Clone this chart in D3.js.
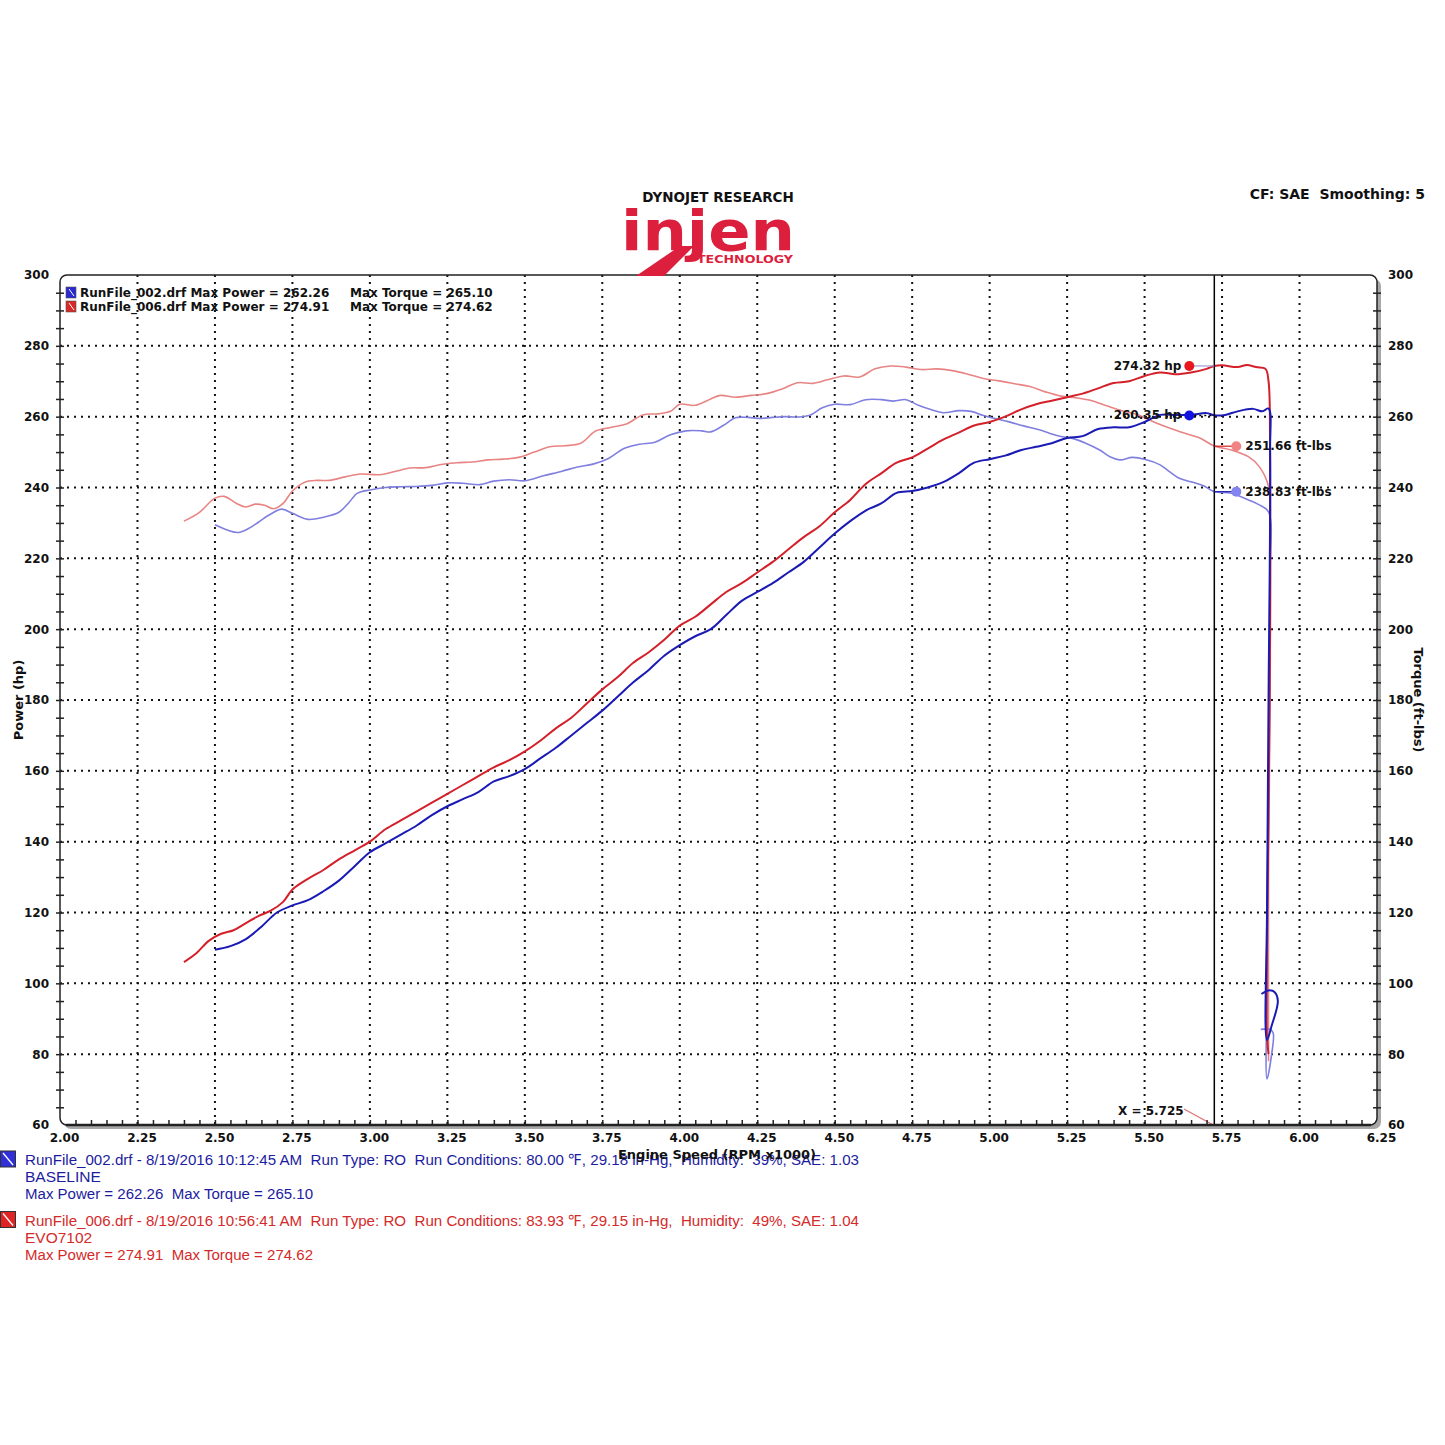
<!DOCTYPE html>
<html>
<head>
<meta charset="utf-8">
<script src="https://cdn.jsdelivr.net/npm/d3@7"></script>
<style>
  body { margin: 0; background: #fff; }
  text { font-family: "DejaVu Sans", Verdana, sans-serif; white-space: pre; }
</style>
</head>
<body>
<div id="chart"></div>
<script>
// Dyno runs: [rpm x1000, value]
const run006Power = [
  [2.40, 106], [2.44, 108.5], [2.48, 112], [2.52, 114], [2.56, 115], [2.60, 117], [2.64, 119],
  [2.68, 120.5], [2.72, 123], [2.75, 126.5], [2.80, 129.5], [2.85, 132], [2.90, 135], [2.95, 137.5],
  [3.00, 140], [3.05, 143.5], [3.10, 146], [3.15, 148.5], [3.20, 151], [3.25, 153.5], [3.30, 156],
  [3.35, 158.5], [3.40, 161], [3.45, 163], [3.50, 165.5], [3.55, 168.5], [3.60, 172], [3.65, 175],
  [3.70, 179], [3.75, 183], [3.80, 186.5], [3.85, 190.5], [3.90, 193.5], [3.95, 197], [4.00, 201],
  [4.05, 203.5], [4.10, 207], [4.15, 210.5], [4.20, 213], [4.25, 216], [4.30, 219], [4.35, 222.5],
  [4.40, 226], [4.45, 229], [4.50, 233], [4.55, 236.5], [4.60, 241], [4.65, 244], [4.70, 247],
  [4.75, 248.5], [4.80, 251], [4.85, 253.5], [4.90, 255.5], [4.95, 257.5], [5.00, 258.5], [5.05, 260],
  [5.10, 262], [5.15, 263.5], [5.20, 264.5], [5.25, 265.5], [5.30, 266.5], [5.35, 268], [5.40, 269.5],
  [5.45, 270], [5.50, 271.5], [5.55, 272.5], [5.60, 272], [5.65, 272.5], [5.70, 273.5], [5.725, 274.3],
  [5.75, 274.5], [5.80, 274], [5.83, 274.6], [5.86, 274], [5.89, 273.5], [5.90, 270], [5.905, 250],
  [5.905, 200], [5.90, 150], [5.895, 110], [5.895, 85], [5.90, 80]
];
const run002Power = [
  [2.50, 109.5], [2.55, 110.5], [2.60, 112.5], [2.65, 116], [2.70, 120], [2.75, 122], [2.80, 123.5],
  [2.85, 126], [2.90, 129], [2.95, 133], [3.00, 137], [3.05, 139.5], [3.10, 142], [3.15, 144.5],
  [3.20, 147.5], [3.25, 150], [3.30, 152], [3.35, 154], [3.40, 157], [3.45, 158.5], [3.50, 160.5],
  [3.55, 163.5], [3.60, 166.5], [3.65, 170], [3.70, 173.5], [3.75, 177], [3.80, 181], [3.85, 185],
  [3.90, 188.5], [3.95, 192.5], [4.00, 195.5], [4.05, 198], [4.10, 200], [4.15, 204], [4.20, 208],
  [4.25, 210.5], [4.30, 213], [4.35, 216], [4.40, 219], [4.45, 223], [4.50, 227], [4.55, 230.5],
  [4.60, 233.5], [4.65, 235.5], [4.70, 238.5], [4.75, 239], [4.80, 240], [4.85, 241.5], [4.90, 244],
  [4.95, 247], [5.00, 248], [5.05, 249], [5.10, 250.5], [5.15, 251.5], [5.20, 252.5], [5.25, 254],
  [5.30, 254.5], [5.35, 256.5], [5.40, 257], [5.45, 257], [5.50, 258.5], [5.55, 260.5], [5.60, 260.5],
  [5.65, 260.5], [5.70, 261], [5.725, 260.4], [5.76, 260.5], [5.80, 261.5], [5.85, 262.2], [5.88, 261.5],
  [5.90, 262.3], [5.905, 250], [5.90, 180], [5.895, 120], [5.895, 84], [5.91, 88], [5.93, 95],
  [5.92, 97.5], [5.90, 98], [5.877, 97]
];
const run006Torque = [
  [2.40, 230.5], [2.45, 233], [2.50, 237], [2.53, 237.5], [2.57, 235.5], [2.60, 234.5], [2.63, 235.3],
  [2.66, 235], [2.69, 234], [2.72, 235.5], [2.75, 239], [2.79, 241.5], [2.83, 242], [2.87, 242],
  [2.92, 243], [2.97, 243.8], [3.03, 243.6], [3.08, 244.5], [3.13, 245.5], [3.18, 245.6], [3.23, 246.5],
  [3.28, 247], [3.33, 247.2], [3.38, 247.8], [3.43, 248], [3.48, 248.5], [3.53, 250], [3.58, 251.5],
  [3.63, 251.8], [3.68, 252.5], [3.73, 256], [3.78, 257], [3.83, 258], [3.88, 260.5], [3.93, 260.8],
  [3.97, 261.5], [4.00, 263.5], [4.05, 263.2], [4.10, 265], [4.13, 266], [4.18, 265.5], [4.23, 266],
  [4.28, 266.5], [4.33, 267.8], [4.38, 269.6], [4.43, 269.4], [4.48, 270.5], [4.53, 271.5], [4.58, 271.2],
  [4.63, 273.5], [4.68, 274.3], [4.73, 274], [4.78, 273.3], [4.83, 273.5], [4.88, 273], [4.93, 272],
  [4.98, 270.8], [5.03, 270.1], [5.08, 269.3], [5.13, 268.5], [5.18, 267], [5.23, 265.8], [5.28, 265.3],
  [5.33, 264.5], [5.38, 263], [5.43, 261.6], [5.48, 260.5], [5.53, 258.5], [5.58, 256.8], [5.63, 255.3],
  [5.68, 253.9], [5.725, 251.7], [5.78, 250.6], [5.835, 248.7], [5.87, 245.9], [5.90, 240.3],
  [5.905, 225], [5.905, 180], [5.90, 130], [5.90, 78]
];
const run002Torque = [
  [2.50, 229.5], [2.54, 228], [2.575, 227.3], [2.61, 228.5], [2.64, 230.2], [2.68, 232.5], [2.715, 233.9],
  [2.75, 232.7], [2.80, 231], [2.85, 231.6], [2.90, 233], [2.93, 235.5], [2.96, 238.4], [3.00, 239.3],
  [3.05, 240], [3.10, 240.2], [3.15, 240.3], [3.20, 240.6], [3.25, 241.3], [3.30, 241.2], [3.355, 240.8],
  [3.40, 241.8], [3.45, 242.2], [3.50, 241.9], [3.56, 243.3], [3.62, 244.6], [3.67, 245.8], [3.72, 246.6],
  [3.77, 248.2], [3.82, 251], [3.87, 252.2], [3.92, 252.8], [3.97, 254.9], [4.02, 256], [4.07, 256],
  [4.10, 255.7], [4.14, 257.5], [4.18, 259.7], [4.22, 259.8], [4.26, 259.5], [4.30, 259.8], [4.34, 260],
  [4.38, 259.9], [4.42, 260.4], [4.46, 262.5], [4.50, 263.5], [4.55, 263.4], [4.60, 264.8], [4.65, 264.8],
  [4.69, 264.4], [4.73, 264.8], [4.77, 263.2], [4.81, 262], [4.85, 261.1], [4.90, 261.7], [4.94, 261.5],
  [4.98, 260.3], [5.02, 259.4], [5.06, 258.6], [5.11, 257.4], [5.16, 256.3], [5.22, 254.6], [5.27, 253.8],
  [5.31, 252.5], [5.355, 250.6], [5.39, 248.6], [5.42, 247.8], [5.46, 248.5], [5.50, 248], [5.55, 246.4],
  [5.58, 244.5], [5.61, 242.7], [5.65, 241.6], [5.69, 240.5], [5.725, 238.8], [5.78, 238.4], [5.835, 236.5],
  [5.87, 235.1], [5.90, 233.1], [5.905, 215], [5.90, 150], [5.895, 100], [5.895, 73], [5.91, 80],
  [5.915, 86], [5.905, 87], [5.875, 87]
];

// cursor readout
const cursorX = 5.725;
const cursorValues = [
  { label: "274.32 hp", value: 274.32, dot: "#e8161e", line: "#9a9ad8", side: "left" },
  { label: "260.35 hp", value: 260.35, dot: "#1414e0", line: "#000", side: "left", dashed: true },
  { label: "251.66 ft-lbs", value: 251.66, dot: "#f08484", line: "#d42020", side: "right" },
  { label: "238.83 ft-lbs", value: 238.83, dot: "#8484f0", line: "#2020b0", side: "right" }
];

const legendTop = [
  { file: "RunFile_002.drf Max Power = 262.26", torque: "Max Torque = 265.10", color: "#2a2ad0" },
  { file: "RunFile_006.drf Max Power = 274.91", torque: "Max Torque = 274.62", color: "#d82828" }
];
const legendBottom = [
  { color: "#1c1ca0", box: "#3030d8", lines: [
    "RunFile_002.drf - 8/19/2016 10:12:45 AM  Run Type: RO  Run Conditions: 80.00 \u2109, 29.18 in-Hg,  Humidity:  39%, SAE: 1.03",
    "BASELINE", "Max Power = 262.26  Max Torque = 265.10"] },
  { color: "#d42a2a", box: "#e02424", lines: [
    "RunFile_006.drf - 8/19/2016 10:56:41 AM  Run Type: RO  Run Conditions: 83.93 \u2109, 29.15 in-Hg,  Humidity:  49%, SAE: 1.04",
    "EVO7102", "Max Power = 274.91  Max Torque = 274.62"] }
];

const W = 1445, H = 1445;
const svg = d3.select("#chart").append("svg").attr("width", W).attr("height", H);
svg.append("rect").attr("width", W).attr("height", H).attr("fill", "#fff");

const plot = { left: 60, right: 1377, top: 275, bottom: 1125 };
const x = d3.scaleLinear().domain([2, 6.25]).range([plot.left, plot.right]);
const y = d3.scaleLinear().domain([60, 300]).range([plot.bottom, plot.top]);

// frame shadow + background
svg.append("rect")
  .attr("x", plot.left + 4).attr("y", plot.top + 4)
  .attr("width", plot.right - plot.left).attr("height", plot.bottom - plot.top)
  .attr("rx", 7).attr("fill", "#a8a8a8");
svg.append("rect")
  .attr("x", plot.left).attr("y", plot.top)
  .attr("width", plot.right - plot.left).attr("height", plot.bottom - plot.top)
  .attr("rx", 7).attr("fill", "#fff");

// grid
const grid = svg.append("g").attr("stroke", "#111").attr("stroke-width", 2).attr("stroke-dasharray", "2,5");
grid.selectAll(".gx").data(d3.range(2.25, 6.25, 0.25)).enter().append("line")
  .attr("x1", d => x(d)).attr("x2", d => x(d)).attr("y1", plot.top).attr("y2", plot.bottom);
grid.selectAll(".gy").data(d3.range(80, 300, 20)).enter().append("line")
  .attr("y1", d => y(d)).attr("y2", d => y(d)).attr("x1", plot.left).attr("x2", plot.right);

// curves
const line = d3.line().x(d => x(d[0])).y(d => y(d[1])).curve(d3.curveCatmullRom.alpha(0.5));
const series = [
  { data: run006Torque, color: "#e88484", w: 1.6 },
  { data: run002Torque, color: "#7f7fe0", w: 1.6 },
  { data: run006Power, color: "#d3202a", w: 2 },
  { data: run002Power, color: "#1a1ab4", w: 2 }
];
svg.append("g").selectAll("path").data(series).enter().append("path")
  .attr("d", d => line(d.data)).attr("fill", "none")
  .attr("stroke", d => d.color).attr("stroke-width", d => d.w)
  .attr("stroke-linejoin", "round");

// cursor
svg.append("line").attr("x1", x(cursorX)).attr("x2", x(cursorX))
  .attr("y1", plot.top).attr("y2", plot.bottom).attr("stroke", "#000").attr("stroke-width", 1.5);

const readout = svg.append("g");
cursorValues.forEach(c => {
  const cx = c.side === "left" ? x(cursorX) - 25 : x(cursorX) + 22;
  const cy = y(c.value);
  readout.append("line").attr("x1", cx).attr("x2", x(cursorX)).attr("y1", cy).attr("y2", cy)
    .attr("stroke", c.line).attr("stroke-width", c.dashed ? 1.5 : 1.2)
    .attr("stroke-dasharray", c.dashed ? "2,3" : null);
  readout.append("circle").attr("cx", cx).attr("cy", cy).attr("r", 5).attr("fill", c.dot);
  readout.append("text")
    .attr("x", c.side === "left" ? cx - 8 : cx + 9).attr("y", cy + 4)
    .attr("text-anchor", c.side === "left" ? "end" : "start")
    .attr("font-size", 12).attr("font-weight", "bold").attr("fill", "#111")
    .text(c.label);
});

// X = label
svg.append("line").attr("x1", 1184).attr("y1", 1109).attr("x2", x(cursorX) - 1).attr("y2", plot.bottom)
  .attr("stroke", "#e07070").attr("stroke-width", 1.2);
svg.append("text").attr("x", 1118).attr("y", 1115).attr("font-size", 12)
  .attr("font-weight", "bold").attr("fill", "#111").text("X = " + cursorX.toFixed(3));

// frame border
svg.append("rect")
  .attr("x", plot.left).attr("y", plot.top)
  .attr("width", plot.right - plot.left).attr("height", plot.bottom - plot.top)
  .attr("rx", 7).attr("fill", "none").attr("stroke", "#222").attr("stroke-width", 1.5);

// axes
const fmtY = d => (d % 20 === 0 ? d : "");
const leftAxis = svg.append("g").attr("transform", `translate(${plot.left},0)`)
  .call(d3.axisLeft(y).tickValues(d3.range(60, 301, 5)).tickFormat(fmtY).tickSize(5).tickPadding(6));
const rightAxis = svg.append("g").attr("transform", `translate(${plot.right},0)`)
  .call(d3.axisRight(y).tickValues(d3.range(60, 301, 5)).tickFormat(fmtY).tickSize(5).tickPadding(6));
const bottomAxis = svg.append("g").attr("transform", `translate(0,${plot.bottom})`)
  .call(d3.axisBottom(x).tickValues(d3.range(0, 86).map(i => 2 + i * 0.05))
    .tickFormat((d, i) => (i % 5 === 0 ? d3.format(".2f")(d) : "")).tickSize(5).tickPadding(3));
[leftAxis, rightAxis, bottomAxis].forEach(a => {
  a.select(".domain").remove();
  a.selectAll("line").attr("stroke", "#222").attr("stroke-width", 1.5);
  a.selectAll("text").attr("font-size", 12).attr("font-weight", "bold").attr("fill", "#111")
    .style("font-family", "'DejaVu Sans', Verdana, sans-serif");
});
leftAxis.selectAll(".tick line").attr("x1", 4).attr("x2", -4);
leftAxis.selectAll(".tick").filter(d => d === 60 || d === 300).select("line").remove();
rightAxis.selectAll(".tick line").attr("x1", -4).attr("x2", 4);
rightAxis.selectAll(".tick").filter(d => d === 60 || d === 300).select("line").remove();
bottomAxis.selectAll(".tick line").attr("y1", -5).attr("y2", 1);
bottomAxis.selectAll(".tick").filter((d, i) => i === 0 || i === 85).select("line").remove();
bottomAxis.selectAll("text").attr("dx", 4).attr("y", 8);
svg.append("line").attr("x1", plot.left + 6).attr("x2", plot.right - 6)
  .attr("y1", plot.bottom).attr("y2", plot.bottom).attr("stroke", "#222").attr("stroke-width", 2.5);

// axis titles
svg.append("text").attr("transform", `translate(23,${(plot.top + plot.bottom) / 2}) rotate(-90)`)
  .attr("text-anchor", "middle").attr("font-size", 13).attr("font-weight", "bold").attr("fill", "#111")
  .text("Power (hp)");
svg.append("text").attr("transform", `translate(1414,${(plot.top + plot.bottom) / 2}) rotate(90)`)
  .attr("text-anchor", "middle").attr("font-size", 13).attr("font-weight", "bold").attr("fill", "#111")
  .text("Torque (ft-lbs)");

// top legend
legendTop.forEach((l, i) => {
  const ly = 292 + i * 14;
  svg.append("rect").attr("x", 66).attr("y", ly - 5).attr("width", 10).attr("height", 11)
    .attr("fill", l.color).attr("stroke", "#555").attr("stroke-width", 0.6);
  svg.append("line").attr("x1", 69).attr("y1", ly - 3).attr("x2", 74).attr("y2", ly + 4)
    .attr("stroke", "#fff").attr("stroke-width", 1);
  svg.append("text").attr("x", 80).attr("y", ly + 5).attr("font-size", 12).attr("font-weight", "bold")
    .attr("fill", "#111").text(l.file);
  svg.append("text").attr("x", 350).attr("y", ly + 5).attr("font-size", 12).attr("font-weight", "bold")
    .attr("fill", "#111").text(l.torque);
});

// header
svg.append("text").attr("x", 718).attr("y", 202).attr("text-anchor", "middle")
  .attr("font-size", 13.5).attr("font-weight", "bold").attr("fill", "#111").text("DYNOJET RESEARCH");
svg.append("text").attr("x", 1425).attr("y", 199).attr("text-anchor", "end")
  .attr("font-size", 14).attr("font-weight", "bold").attr("fill", "#111").text("CF: SAE  Smoothing: 5");

// logo
const logo = svg.append("g");
logo.append("text").attr("x", 621).attr("y", 250).attr("font-size", 56).attr("font-weight", "bold")
  .attr("textLength", 174).attr("lengthAdjust", "spacingAndGlyphs")
  .attr("fill", "#dc1f3c").text("injen");
logo.append("polygon").attr("points", "680,246 694,246 664,276 636,276").attr("fill", "#dc1f3c");
logo.append("text").attr("x", 697).attr("y", 263).attr("font-size", 11).attr("font-weight", "bold")
  .attr("textLength", 96).attr("lengthAdjust", "spacingAndGlyphs")
  .attr("fill", "#dc1f3c").text("TECHNOLOGY");

// bottom legend
const widths = [834, null, 288];
legendBottom.forEach((l, i) => {
  const by = 1165 + i * 60.5;
  svg.append("rect").attr("x", 0.5).attr("y", by - 14).attr("width", 15).attr("height", 16)
    .attr("fill", l.box).attr("stroke", "#333").attr("stroke-width", 1);
  svg.append("line").attr("x1", 3).attr("y1", by - 12).attr("x2", 13).attr("y2", by)
    .attr("stroke", "#fff").attr("stroke-width", 1.3);
  l.lines.forEach((t, j) => {
    const tx = svg.append("text").attr("x", 25).attr("y", by + j * 17)
      .attr("font-size", 15.5).attr("fill", l.color)
      .style("font-family", "'Liberation Sans Narrow', 'Liberation Sans', Arial, sans-serif")
      .text(t);
    if (widths[j]) tx.attr("textLength", widths[j]).attr("lengthAdjust", "spacingAndGlyphs");
  });
});

svg.append("text").attr("x", 717).attr("y", 1159).attr("text-anchor", "middle")
  .attr("font-size", 13).attr("font-weight", "bold").attr("fill", "#111").text("Engine Speed (RPM x1000)");
</script>
</body>
</html>
